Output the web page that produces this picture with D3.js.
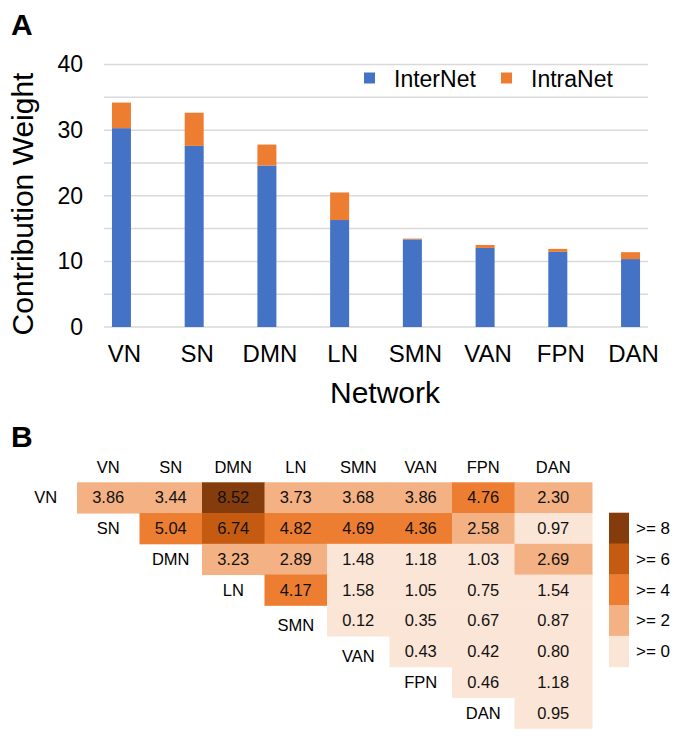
<!DOCTYPE html>
<html>
<head>
<meta charset="utf-8">
<script src="https://cdn.jsdelivr.net/npm/d3@7"></script>
<style>
  html, body { margin: 0; padding: 0; background: #fff; }
  svg { display: block; font-family: "Liberation Sans", Arial, Helvetica, sans-serif; }
</style>
</head>
<body>
<svg id="chart" width="680" height="739"></svg>
<script>
// ---------- Data ----------
const networks = ["VN", "SN", "DMN", "LN", "SMN", "VAN", "FPN", "DAN"];
const interNet = [30.3, 27.6, 24.6, 16.3, 13.35, 12.05, 11.45, 10.35];
const intraNet = [3.9, 5.05, 3.2, 4.2, 0.12, 0.45, 0.45, 1.05];
const seriesNames = ["InterNet", "IntraNet"];
const yTicks = [0, 10, 20, 30, 40];
const yGrid = [0, 5, 10, 15, 20, 25, 30, 35, 40];

// Upper-triangular matrix rows (row i starts at column i)
const matrixRows = [
  [3.86, 3.44, 8.52, 3.73, 3.68, 3.86, 4.76, 2.30],
  [5.04, 6.74, 4.82, 4.69, 4.36, 2.58, 0.97],
  [3.23, 2.89, 1.48, 1.18, 1.03, 2.69],
  [4.17, 1.58, 1.05, 0.75, 1.54],
  [0.12, 0.35, 0.67, 0.87],
  [0.43, 0.42, 0.80],
  [0.46, 1.18],
  [0.95]
];
const binThresholds = [2, 4, 6, 8];
const binLabels = [">= 0", ">= 2", ">= 4", ">= 6", ">= 8"];
const binColors = ["#fbe5d6", "#f4b183", "#ed7d31", "#c55a11", "#843c0c"];
const seriesColors = ["#4472c4", "#ed7d31"];

// ---------- Setup ----------
const svg = d3.select("#chart");

// Panel letters
svg.append("text").attr("x", 11).attr("y", 35).attr("font-size", 30).attr("font-weight", "bold").text("A");
svg.append("text").attr("x", 11).attr("y", 447).attr("font-size", 30).attr("font-weight", "bold").text("B");

// ---------- Panel A: stacked bars ----------
const plotL = 104, plotR = 648, plotT = 64.5, plotB = 327;
const x = d3.scalePoint().domain(networks).range([plotL, plotR]).padding(0.24);
const y = d3.scaleLinear().domain([0, 40]).range([plotB, plotT]);
const barW = 19;

const gA = svg.append("g");

// gridlines
gA.selectAll("line.grid").data(yGrid).join("line")
  .attr("class", "grid")
  .attr("x1", plotL).attr("x2", plotR)
  .attr("y1", d => y(d)).attr("y2", d => y(d))
  .attr("stroke", "#d9d9d9").attr("stroke-width", 1.5);

// y axis (labels only)
const yAxis = d3.axisLeft(y).tickValues(yTicks).tickSize(0).tickPadding(0);
const yg = gA.append("g").attr("transform", "translate(83,0)").call(yAxis);
yg.select(".domain").remove();
yg.selectAll("text").attr("font-size", 23).attr("fill", "#000")
  .attr("font-family", "Liberation Sans, Arial, sans-serif");

// stacked data
const stackData = networks.map((n, i) => ({ net: n, InterNet: interNet[i], IntraNet: intraNet[i] }));
const stacked = d3.stack().keys(seriesNames)(stackData);

gA.selectAll("g.series").data(stacked).join("g")
  .attr("class", "series")
  .attr("fill", (d, i) => seriesColors[i])
  .selectAll("rect").data(d => d).join("rect")
  .attr("x", d => x(d.data.net) - barW / 2)
  .attr("width", barW)
  .attr("y", d => y(d[1]))
  .attr("height", d => y(d[0]) - y(d[1]));

// x axis labels
const xAxis = d3.axisBottom(x).tickSize(0).tickPadding(0);
const xg = gA.append("g").attr("transform", `translate(2.5,${plotB})`).call(xAxis);
xg.select(".domain").remove();
xg.selectAll("text").attr("font-size", 24).attr("fill", "#000")
  .attr("dy", null).attr("y", 35)
  .attr("font-family", "Liberation Sans, Arial, sans-serif");

// axis titles
gA.append("text").attr("x", 385).attr("y", 403).attr("text-anchor", "middle")
  .attr("font-size", 30).text("Network");
gA.append("text").attr("transform", "translate(33,204) rotate(-90)")
  .attr("text-anchor", "middle").attr("font-size", 30).text("Contribution Weight");

// legend
const legX = [364, 501];
const leg = gA.selectAll("g.leg").data(seriesNames).join("g")
  .attr("class", "leg")
  .attr("transform", (d, i) => `translate(${legX[i]},72.5)`);
leg.append("rect").attr("width", 11).attr("height", 11).attr("fill", (d, i) => seriesColors[i]);
leg.append("text").attr("x", 30).attr("y", 14.5).attr("font-size", 23).text(d => d);

// ---------- Panel B: heatmap ----------
const hmLeft = 77, hmTop = 482.3, colW = 62.5, lastColW = 77.5, rowH = 30.75;
const colIndex = d3.scaleLinear().domain([0, 1]).range([hmLeft, hmLeft + colW]);
const colLeft = i => colIndex(i);
const colWidth = i => (i === networks.length - 1 ? lastColW : colW);
const colCenter = i => colLeft(i) + colWidth(i) / 2;
const rowY = d3.scaleLinear().domain([0, 1]).range([hmTop, hmTop + rowH]);
const colorScale = d3.scaleThreshold().domain(binThresholds).range(binColors);

const gB = svg.append("g");
const fs = 16.5;

// column headers
gB.selectAll("text.colh").data(networks).join("text")
  .attr("class", "colh")
  .attr("x", (d, i) => colCenter(i))
  .attr("y", 467).attr("dy", "0.35em")
  .attr("text-anchor", "middle").attr("font-size", fs).text(d => d);

// cells
const cells = [];
matrixRows.forEach((row, r) => row.forEach((v, k) => cells.push({ r, c: r + k, v })));

gB.selectAll("rect.cell").data(cells).join("rect")
  .attr("class", "cell")
  .attr("x", d => colLeft(d.c))
  .attr("y", d => rowY(d.r))
  .attr("width", d => colWidth(d.c) + 0.5)
  .attr("height", rowH + 0.5)
  .attr("fill", d => colorScale(d.v));

gB.selectAll("text.val").data(cells).join("text")
  .attr("class", "val")
  .attr("x", d => colCenter(d.c))
  .attr("y", d => rowY(d.r) + rowH / 2).attr("dy", "0.35em")
  .attr("text-anchor", "middle").attr("font-size", fs).attr("fill", "#111")
  .text(d => d3.format(".2f")(d.v));

// row labels (placed left of the diagonal)
const rowLabelDy = { SMN: 5, VAN: 5 };
gB.selectAll("text.rowh").data(networks).join("text")
  .attr("class", "rowh")
  .attr("x", (d, i) => colLeft(i - 1) + colW / 2)
  .attr("y", (d, i) => rowY(i) + rowH / 2 + (rowLabelDy[d] || 0)).attr("dy", "0.35em")
  .attr("text-anchor", "middle").attr("font-size", fs).text(d => d);

// legend
const legTop = 512.7, legH = 30.8;
const binsTopDown = binLabels.map((l, i) => ({ l, c: binColors[i] })).reverse();
const lg = gB.selectAll("g.hleg").data(binsTopDown).join("g")
  .attr("class", "hleg")
  .attr("transform", (d, i) => `translate(609,${legTop + i * legH})`);
lg.append("rect").attr("width", 20).attr("height", legH + 0.5).attr("fill", d => d.c);
lg.append("text").attr("x", 27).attr("y", legH / 2).attr("dy", "0.35em")
  .attr("font-size", 17).text(d => d.l);
</script>
</body>
</html>
